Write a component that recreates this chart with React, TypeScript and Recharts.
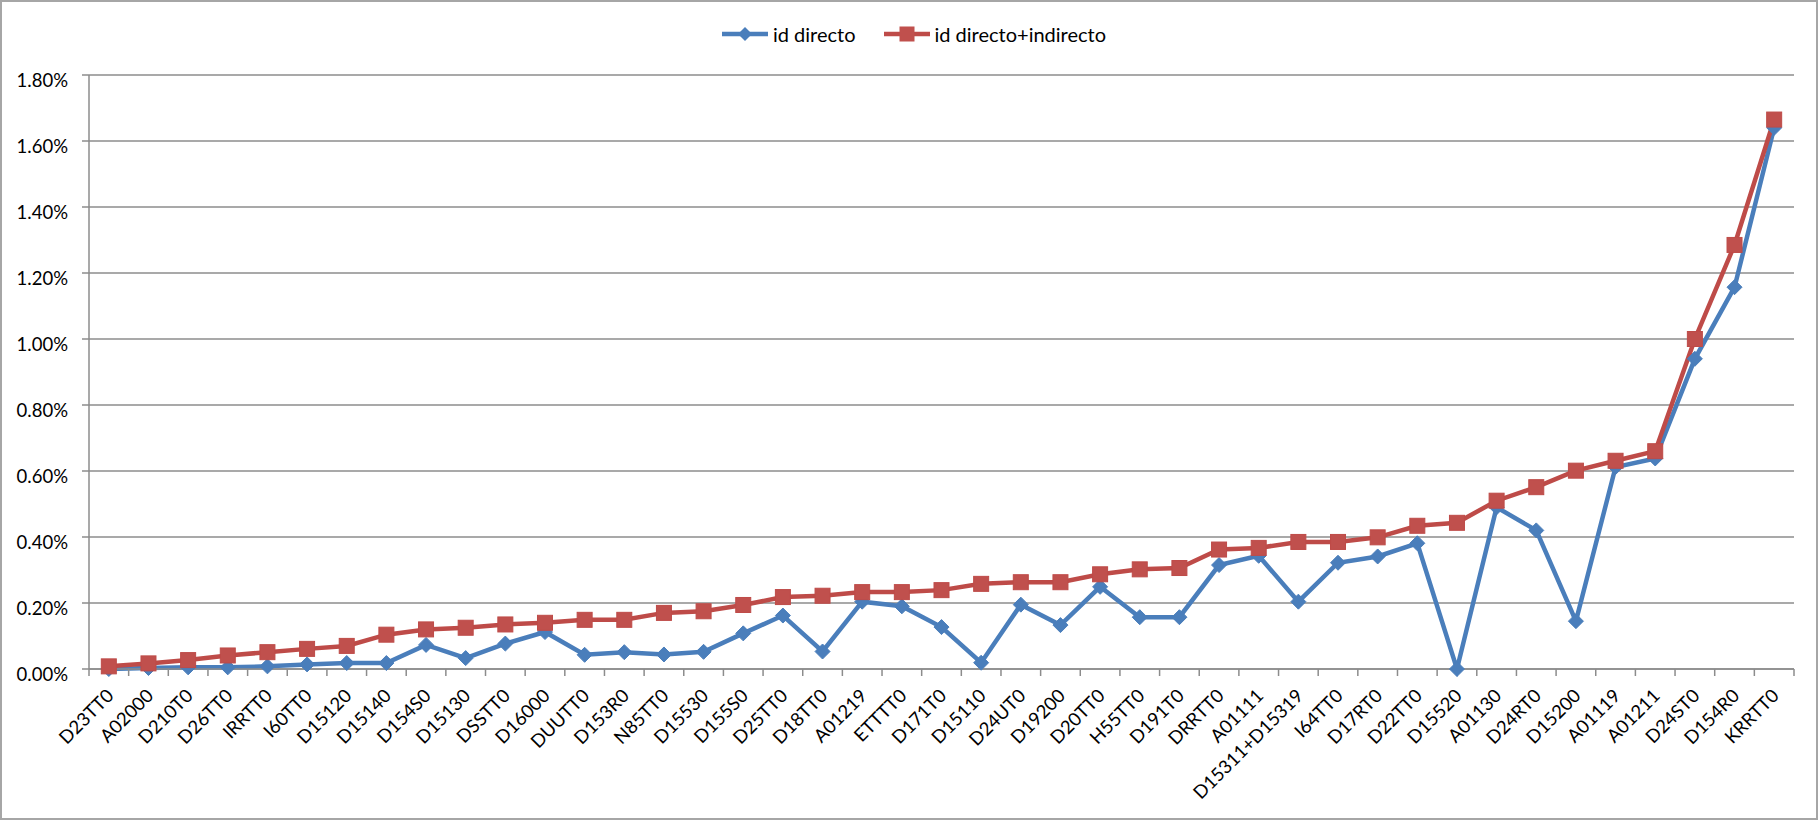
import React from 'react';
import { CartesianGrid, Legend, Line, LineChart, XAxis, YAxis } from 'recharts';

const CATEGORIES = [
    'D23TT0', 'A02000', 'D210T0', 'D26TT0', 'IRRTT0', 'I60TT0', 'D15120', 'D15140', 'D154S0',
    'D15130', 'DSSTT0', 'D16000', 'DUUTT0', 'D153R0', 'N85TT0', 'D15530', 'D155S0', 'D25TT0',
    'D18TT0', 'A01219', 'ETTTT0', 'D171T0', 'D15110', 'D24UT0', 'D19200', 'D20TT0', 'H55TT0',
    'D191T0', 'DRRTT0', 'A01111', 'D15311+D15319', 'I64TT0', 'D17RT0', 'D22TT0', 'D15520',
    'A01130', 'D24RT0', 'D15200', 'A01119', 'A01211', 'D24ST0', 'D154R0', 'KRRTT0',
];

// values in percent
const DIRECTO = [
    0.0, 0.003, 0.005, 0.005, 0.008, 0.014, 0.018, 0.018, 0.073,
    0.033, 0.077, 0.112, 0.043, 0.051, 0.044, 0.052, 0.108, 0.162,
    0.053, 0.204, 0.19, 0.127, 0.019, 0.195, 0.133, 0.249, 0.157,
    0.157, 0.315, 0.343, 0.204, 0.322, 0.341, 0.381, 0.0,
    0.49, 0.42, 0.145, 0.612, 0.638, 0.94, 1.157, 1.64,
];

const DIRECTO_INDIRECTO = [
    0.008, 0.017, 0.027, 0.041, 0.051, 0.061, 0.07, 0.104, 0.12,
    0.125, 0.135, 0.14, 0.149, 0.149, 0.17, 0.175, 0.194, 0.218,
    0.222, 0.233, 0.233, 0.239, 0.258, 0.263, 0.263, 0.287, 0.302,
    0.306, 0.362, 0.367, 0.385, 0.385, 0.399, 0.434, 0.443,
    0.51, 0.551, 0.601, 0.631, 0.66, 1.0, 1.285, 1.665,
];

const Y_TICKS = [0, 0.2, 0.4, 0.6, 0.8, 1.0, 1.2, 1.4, 1.6, 1.8];

const BLUE = '#4a7ebb';
const RED = '#be4b48';
const GRID = '#8c8c8c';
const FONT = 'Lato, "Liberation Sans", sans-serif';

const data = CATEGORIES.map((name, i) => ({
    name,
    directo: DIRECTO[i],
    total: DIRECTO_INDIRECTO[i],
}));

function Diamond(props: any) {
    const { cx, cy } = props;
    if (cx == null || cy == null) return null;
    const r = 7.5;
    return (
        <polygon
            points={`${cx},${cy - r} ${cx + r},${cy} ${cx},${cy + r} ${cx - r},${cy}`}
            fill={BLUE}
            stroke={BLUE}
            strokeWidth={1}
        />
    );
}

function Square(props: any) {
    const { cx, cy } = props;
    if (cx == null || cy == null) return null;
    const s = 15;
    return <rect x={cx - s / 2} y={cy - s / 2} width={s} height={s} fill="#c0504d" stroke={RED} strokeWidth={1} />;
}

function XTick(props: any) {
    const { x, y, payload, width, visibleTicksCount, index } = props;
    const half = width / visibleTicksCount / 2;
    return (
        <g>
            <line x1={x - half} y1={y} x2={x - half} y2={y + 7} stroke={GRID} strokeWidth={1.5} />
            {index === visibleTicksCount - 1 && (
                <line x1={x + half} y1={y} x2={x + half} y2={y + 7} stroke={GRID} strokeWidth={1.5} />
            )}
            <g transform={`translate(${x + 6},${y + 28})`}>
                <text
                    transform="rotate(-45)"
                    textAnchor="end"
                    fontFamily={FONT}
                    fontSize={18.5}
                    fill="#000"
                >
                    {payload.value}
                </text>
            </g>
        </g>
    );
}

function YTick(props: any) {
    const { x, y, payload } = props;
    return (
        <text x={x} y={y} dy={5} textAnchor="end" dominantBaseline="central" fontFamily={FONT} fontSize={18.5} fill="#000">
            {payload.value.toFixed(2)}%
        </text>
    );
}

function LegendContent() {
    return (
        <div
            style={{
                display: 'flex',
                justifyContent: 'center',
                alignItems: 'center',
                paddingLeft: 10,
                fontFamily: FONT,
                fontSize: 20,
                color: '#000',
            }}
        >
            <svg width={46} height={18}>
                <line x1={0} y1={9} x2={46} y2={9} stroke={BLUE} strokeWidth={4.5} strokeLinecap="round" />
                <polygon points="23,2 30,9 23,16 16,9" fill={BLUE} />
            </svg>
            <span style={{ marginLeft: 5 }}>id directo</span>
            <svg width={46} height={18} style={{ marginLeft: 28 }}>
                <line x1={0} y1={9} x2={46} y2={9} stroke={RED} strokeWidth={4.5} strokeLinecap="round" />
                <rect x={15.5} y={1.5} width={15} height={15} fill="#c0504d" />
            </svg>
            <span style={{ marginLeft: 5 }}>id directo+indirecto</span>
        </div>
    );
}

export default function App() {
    return (
        <div style={{ position: 'absolute', left: 0, top: 0, width: 1818, height: 820, background: '#fff' }}>
            <LineChart width={1818} height={820} data={data} margin={{ top: 75, right: 24, bottom: 0, left: 0 }}>
                <CartesianGrid vertical={false} stroke={GRID} strokeWidth={1.5} />
                <XAxis
                    dataKey="name"
                    scale="band"
                    interval={0}
                    height={151}
                    stroke={GRID}
                    strokeWidth={1.5}
                    tickLine={false}
                    tickSize={0}
                    tickMargin={0}
                    tick={<XTick />}
                />
                <YAxis
                    domain={[0, 1.8]}
                    ticks={Y_TICKS}
                    width={89}
                    stroke={GRID}
                    strokeWidth={1.5}
                    tickSize={7}
                    tickMargin={14}
                    tick={<YTick />}
                />
                <Legend
                    verticalAlign="middle"
                    align="center"
                    layout="horizontal"
                    wrapperStyle={{ top: 22, left: 0, width: 1818 }}
                    content={<LegendContent />}
                />
                <Line
                    type="linear"
                    dataKey="directo"
                    name="id directo"
                    stroke={BLUE}
                    strokeWidth={4.5}
                    dot={<Diamond />}
                    activeDot={false}
                    isAnimationActive={false}
                />
                <Line
                    type="linear"
                    dataKey="total"
                    name="id directo+indirecto"
                    stroke={RED}
                    strokeWidth={4.5}
                    dot={<Square />}
                    activeDot={false}
                    isAnimationActive={false}
                />
            </LineChart>
            <div
                style={{
                    position: 'absolute',
                    inset: 0,
                    border: '2px solid #a6a6a6',
                    boxSizing: 'border-box',
                    pointerEvents: 'none',
                }}
            />
        </div>
    );
}
